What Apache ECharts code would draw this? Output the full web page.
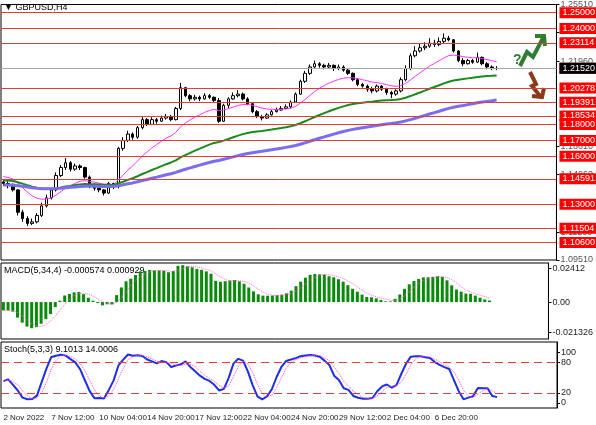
<!DOCTYPE html>
<html><head><meta charset="utf-8">
<script src="https://cdn.jsdelivr.net/npm/echarts@6/dist/echarts.min.js"></script>
<style>html,body{margin:0;padding:0;background:#fff}#c{width:596px;height:425px}</style>
</head><body><div id="c"></div>
<script>
const firstOpen = 1.1440;
const closes = [1.1430,1.1425,1.1390,1.1250,1.1210,1.1180,1.1190,1.1230,1.1290,1.1340,
1.1390,1.1480,1.1530,1.1560,1.1520,1.1540,1.1530,1.1470,1.1420,1.1400,
1.1390,1.1370,1.1430,1.1410,1.1650,1.1700,1.1740,1.1720,1.1780,1.1830,
1.1800,1.1830,1.1820,1.1840,1.1850,1.1830,1.1900,1.2030,1.1980,1.1960,
1.1970,1.1960,1.1980,1.1970,1.1950,1.1820,1.1920,1.1960,1.1980,1.1990,
1.1960,1.1930,1.1880,1.1850,1.1840,1.1860,1.1880,1.1890,1.1900,1.1910,
1.1940,1.1990,1.2070,1.2120,1.2160,1.2180,1.2170,1.2160,1.2170,1.2150,
1.2160,1.2140,1.2120,1.2080,1.2050,1.2040,1.2020,1.2010,1.2040,1.2020,
1.2000,1.1990,1.2010,1.2080,1.2150,1.2230,1.2260,1.2280,1.2290,1.2310,
1.2300,1.2320,1.2340,1.2330,1.2260,1.2200,1.2180,1.2200,1.2190,1.2220,
1.2180,1.2160,1.2150,1.2152];
const highs = [1.1450,1.1445,1.1430,1.1395,1.1265,1.1225,1.1210,1.1245,1.1310,1.1360,
1.1400,1.1500,1.1545,1.1590,1.1570,1.1555,1.1550,1.1535,1.1480,1.1430,
1.1410,1.1395,1.1440,1.1435,1.1660,1.1720,1.1760,1.1750,1.1790,1.1850,
1.1840,1.1845,1.1840,1.1855,1.1865,1.1860,1.1910,1.2060,1.2035,1.1990,
1.1985,1.1980,1.1995,1.1990,1.1975,1.1965,1.1930,1.1970,1.2000,1.2015,
1.2000,1.1970,1.1940,1.1890,1.1860,1.1870,1.1890,1.1905,1.1915,1.1925,
1.1950,1.2000,1.2080,1.2135,1.2175,1.2200,1.2190,1.2180,1.2185,1.2175,
1.2175,1.2170,1.2150,1.2125,1.2090,1.2060,1.2050,1.2035,1.2050,1.2045,
1.2030,1.2010,1.2020,1.2095,1.2170,1.2245,1.2290,1.2310,1.2315,1.2340,
1.2330,1.2345,1.2370,1.2355,1.2335,1.2265,1.2215,1.2210,1.2210,1.2250,
1.2225,1.2190,1.2170,1.2165];
const lows = [1.1415,1.1400,1.1380,1.1230,1.1190,1.1165,1.1170,1.1180,1.1220,1.1280,
1.1330,1.1380,1.1470,1.1515,1.1505,1.1510,1.1515,1.1460,1.1400,1.1385,
1.1375,1.1355,1.1365,1.1395,1.1400,1.1635,1.1690,1.1705,1.1710,1.1770,
1.1790,1.1795,1.1805,1.1815,1.1830,1.1820,1.1825,1.1890,1.1970,1.1945,
1.1950,1.1945,1.1955,1.1960,1.1940,1.1810,1.1815,1.1900,1.1955,1.1970,
1.1950,1.1920,1.1870,1.1840,1.1825,1.1835,1.1855,1.1875,1.1885,1.1895,
1.1900,1.1935,1.1985,1.2060,1.2110,1.2150,1.2155,1.2145,1.2150,1.2135,
1.2140,1.2130,1.2110,1.2070,1.2040,1.2030,1.2005,1.1995,1.2000,1.2010,
1.1985,1.1965,1.1980,1.2000,1.2070,1.2140,1.2220,1.2250,1.2265,1.2280,
1.2285,1.2290,1.2310,1.2320,1.2250,1.2190,1.2165,1.2175,1.2180,1.2185,
1.2170,1.2145,1.2140,1.2140];
const levels = [1.25000,1.24000,1.23114,1.21524,1.20278,1.19391,1.18534,1.18000,1.17000,1.16000,1.14591,1.13000,1.11504,1.10600];
const grayTicks = [1.09510,1.11260,1.14860,1.16610,1.21960,1.23790,1.25510];
const currentPrice = 1.21520;
const maPeriods = [15,50,100];
const maSeeds = [1.1480,1.1450,1.1420];
const macdSeeds = [1.1440,1.1500];
const xLabels = ['2 Nov 2022','7 Nov 12:00','10 Nov 04:00','14 Nov 20:00','17 Nov 12:00','22 Nov 04:00','24 Nov 20:00','29 Nov 12:00','2 Dec 04:00','6 Dec 20:00'];
const totalSlots = 116;

const FONT = 'Liberation Sans';
const cats = Array.from({length: totalSlots}, (_, i) => i);
const opens = closes.map((c, i) => i === 0 ? firstOpen : closes[i-1]);
const candles = closes.map((c, i) => [opens[i], c, lows[i], highs[i]]);
function ema(p, seed){ const k = 2/(p+1); let v = seed; return closes.map(c => (v = v + k*(c - v), +v.toFixed(5))); }
const mas = maPeriods.map((p, j) => ema(p, maSeeds[j]));
function sma(arr, p){ return arr.map((_, i) => { const s = arr.slice(Math.max(0, i-p+1), i+1); return s.reduce((a,b)=>a+b,0)/s.length; }); }
const e5 = ema(5, macdSeeds[0]), e34 = ema(34, macdSeeds[1]);
const macd = closes.map((_, i) => +(e5[i]-e34[i]).toFixed(6));
const sig = sma(macd,4);
const raw = closes.map((c, i) => { const hh = Math.max(...highs.slice(Math.max(0,i-4), i+1)); const ll = Math.min(...lows.slice(Math.max(0,i-4), i+1)); return hh===ll?50:100*(c-ll)/(hh-ll); });
const k = sma(raw,3), d = sma(k,3);

const chart = echarts.init(document.getElementById('c'));
const grids = [{left:1,right:39,top:1,height:259},{left:1,right:39,top:263,height:76},{left:1,right:39,top:342,height:66}];
const axisFont = {color:'#222', fontSize:9, fontFamily:FONT};
const xAxes = grids.map((g, gi) => ({type:'category', gridIndex:gi, data:cats, boundaryGap:true,
  axisLine:{show:false}, axisTick:{show:false}, splitLine:{show:false},
  axisLabel: gi===2 ? {show:true, interval:0, color:'#222', fontSize:8, fontFamily:FONT, align:'left', margin:6,
     formatter:(v)=> (v%10===0 && xLabels[v/10]) ? xLabels[v/10] : ''} : {show:false}}));
const yAxes = [
 {type:'value', gridIndex:0, position:'right', min:1.0951, max:1.2551, scale:true,
  axisLine:{show:true, lineStyle:{color:'#000'}}, splitLine:{show:false},
  axisTick:{show:true, customValues:grayTicks, length:3, lineStyle:{color:'#000'}},
  axisLabel:{customValues:grayTicks, ...axisFont, color:'#555', formatter:v=>v.toFixed(5), margin:4}},
 {type:'value', gridIndex:1, position:'right', min:-0.0262, max:0.0277,
  axisLine:{show:true, lineStyle:{color:'#000'}}, splitLine:{show:false},
  axisTick:{show:true, customValues:[-0.021326,0,0.02412], length:3},
  axisLabel:{customValues:[-0.021326,0,0.02412], ...axisFont, formatter:v=>v===0?'0.00':String(v), margin:4}},
 {type:'value', gridIndex:2, position:'right', min:-10, max:120,
  axisLine:{show:true, lineStyle:{color:'#000'}}, splitLine:{show:false},
  axisTick:{show:true, customValues:[0,20,80,100], length:3},
  axisLabel:{customValues:[0,20,80,100], ...axisFont, margin:4}}
];
const lineCommon = {type:'line', showSymbol:false, symbol:'none', animation:false};
chart.setOption({
  animation:false,
  grid: grids.map(g => ({...g, show:true, borderColor:'#000', borderWidth:1, backgroundColor:'#fff'})),
  xAxis: xAxes, yAxis: yAxes,
  series: [
   {type:'candlestick', xAxisIndex:0, yAxisIndex:0, data:candles, barWidth:3,
    itemStyle:{color:'#fff', color0:'#000', borderColor:'#000', borderColor0:'#000', borderWidth:1},
    markLine:{silent:true, symbol:'none', animation:false, precision:5,
      data: levels.map(v => ({yAxis:v, name:v.toFixed(5)})).concat([{yAxis:currentPrice, name:currentPrice.toFixed(5), lineStyle:{color:'#aaa', type:'solid'}, label:{backgroundColor:'#000', color:'#fff'}}]),
      lineStyle:{color:'#e03c3c', width:1, type:'solid'},
      label:{position:'end', formatter:p=>p.name, backgroundColor:'#f00', color:'#fff', fontSize:9, fontFamily:FONT, padding:[1,3], distance:3}}},
   {...lineCommon, xAxisIndex:0, yAxisIndex:0, data:mas[0], lineStyle:{color:'#ff33ff', width:1}},
   {...lineCommon, xAxisIndex:0, yAxisIndex:0, data:mas[1], lineStyle:{color:'#1a8a1a', width:2}},
   {...lineCommon, xAxisIndex:0, yAxisIndex:0, data:mas[2], lineStyle:{color:'#7b6cf0', width:3}},
   {type:'bar', xAxisIndex:1, yAxisIndex:1, data:macd, barWidth:3, itemStyle:{color:'#0a8a0a'}},
   {...lineCommon, xAxisIndex:1, yAxisIndex:1, data:sig, lineStyle:{color:'#ff66cc', width:1, type:'dotted'}},
   {...lineCommon, xAxisIndex:2, yAxisIndex:2, data:k, lineStyle:{color:'#1f2ee0', width:2},
    markLine:{silent:true, symbol:'none', label:{show:false}, lineStyle:{color:'#e03c3c', type:[8,5], width:1}, data:[{yAxis:20},{yAxis:80}]}},
   {...lineCommon, xAxisIndex:2, yAxisIndex:2, data:d, lineStyle:{color:'#ff44cc', width:1, type:'dotted'}}
  ],
  graphic: [
   {type:'text', left:4, top:3, style:{text:'▼ GBPUSD,H4', fontSize:9, fontFamily:FONT, fill:'#000'}},
   {type:'text', left:4, top:266, style:{text:'MACD(5,34,4) -0.000574 0.000929', fontSize:9, fontFamily:FONT, fill:'#000'}},
   {type:'text', left:4, top:345, style:{text:'Stoch(5,3,3) 9.1013 14.0006', fontSize:9, fontFamily:FONT, fill:'#000'}},
   {type:'polyline', shape:{points:[[520,66],[527,52],[533,57],[543,38]]}, style:{stroke:'#2e7d32', lineWidth:4, fill:null}},
   {type:'polyline', shape:{points:[[535,36],[544,36],[545,46]]}, style:{stroke:'#2e7d32', lineWidth:4, fill:null}},
   {type:'text', left:513, top:53, style:{text:'?', fontSize:14, fontWeight:'bold', fontFamily:FONT, fill:'#2e7d32'}},
   {type:'polyline', shape:{points:[[530,72],[536,84],[532,86],[540,96]]}, style:{stroke:'#8b3a1a', lineWidth:4, fill:null}},
   {type:'polyline', shape:{points:[[532,96],[542,97],[544,88]]}, style:{stroke:'#8b3a1a', lineWidth:4, fill:null}}
  ]
});
</script></body></html>
